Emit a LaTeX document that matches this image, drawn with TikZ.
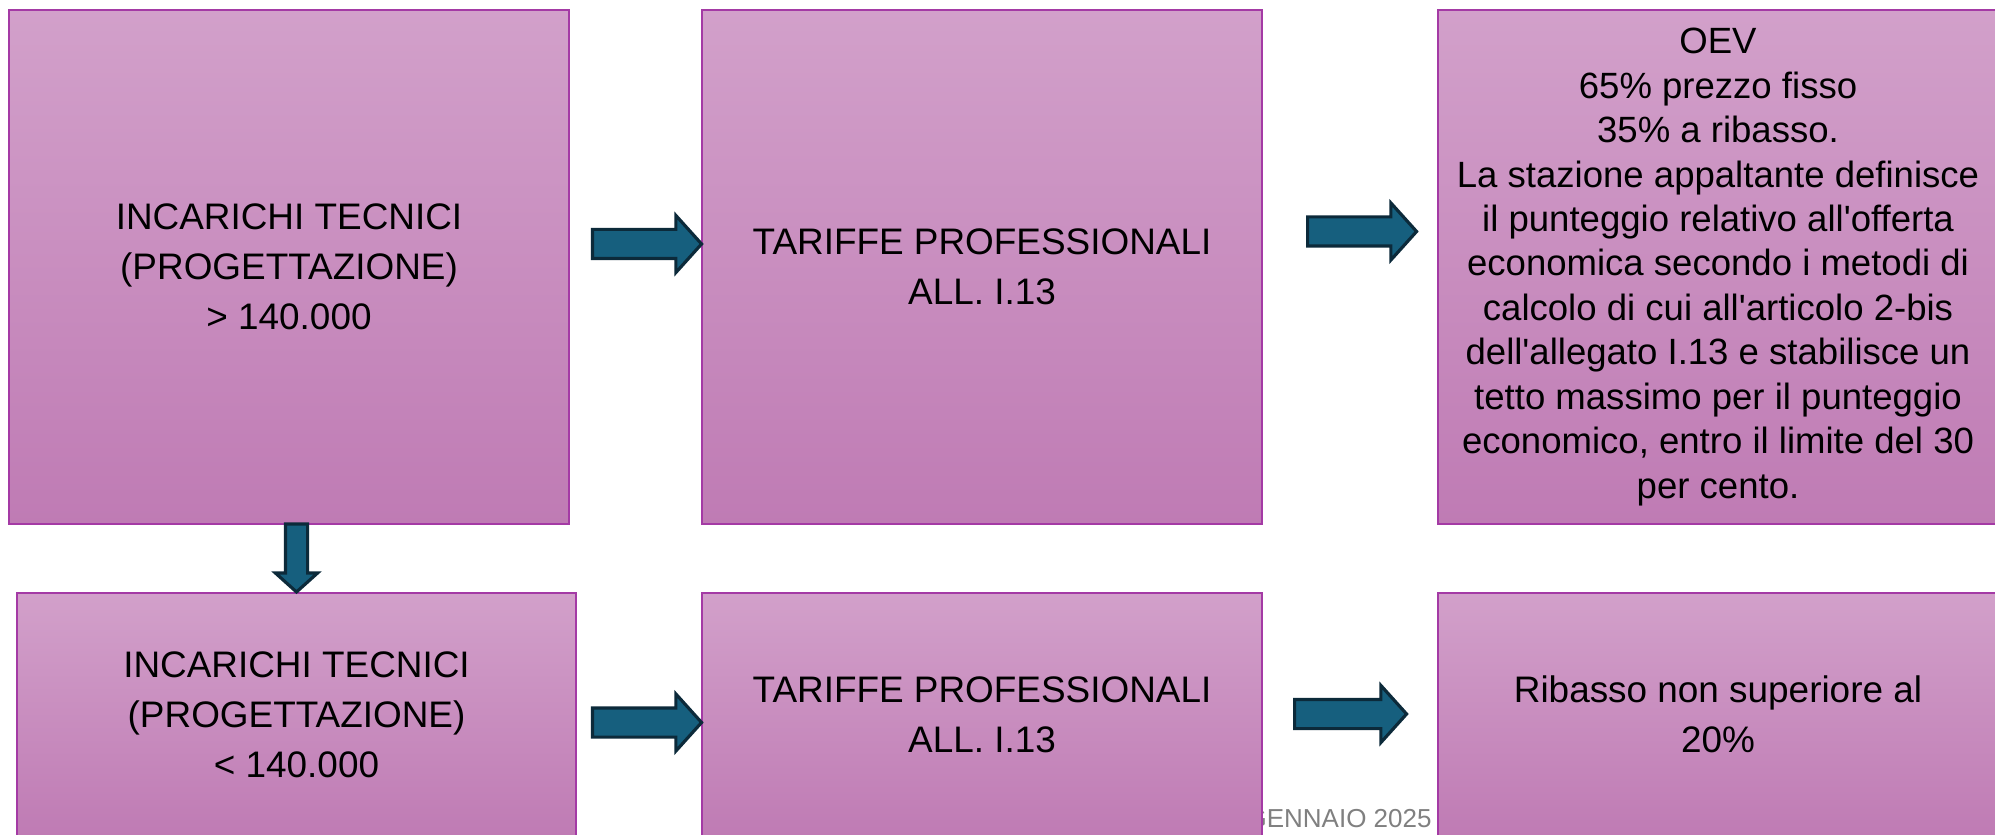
\documentclass[tikz,border=0pt]{standalone}
\usepackage{fontspec}
\setmainfont{Liberation Sans}
\usetikzlibrary{shapes.arrows}

\definecolor{boxtop}{RGB}{210,160,202}
\definecolor{boxbottom}{RGB}{191,123,180}
\definecolor{boxline}{RGB}{164,58,165}
\definecolor{arrowfill}{RGB}{22,95,126}
\definecolor{arrowline}{RGB}{12,42,58}
\definecolor{footgray}{RGB}{128,128,128}

\begin{document}
\begin{tikzpicture}[
        box/.style={draw=boxline, line width=0.6pt, top color=boxtop, bottom color=boxbottom,
            minimum width=5.6cm, align=center, inner sep=0pt,
            font=\fontsize{10.5pt}{14.2pt}\selectfont},
        bigarrow/.style={single arrow, draw=arrowline, line width=0.9pt, fill=arrowfill,
            inner sep=0.13cm, single arrow head extend=0.14cm,
            single arrow tip angle=96, minimum height=1.09cm}
    ]
        \useasboundingbox (0, 0) rectangle (19.95, 8.34);
        \clip (0, 0) rectangle (19.95, 8.34);

        \node[anchor=base east, text=footgray, font=\fontsize{7.4pt}{9pt}\selectfont] (foot) at (14.44, 0.07) {GENNAIO 2025};

        % prima riga
        \node[box, minimum height=5.14cm] (sopra) at (2.89, 5.67) {INCARICHI TECNICI\\(PROGETTAZIONE)\\> 140.000};
        \node[box, minimum height=5.14cm] (tariffesopra) at (9.82, 5.67) {TARIFFE PROFESSIONALI\\ALL. I.13};
        \node[box, minimum height=5.14cm, font=\fontsize{10.4pt}{12.65pt}\selectfont] (oev) at (17.18, 5.67) {OEV\\65\% prezzo fisso\\35\% a ribasso.\\La stazione appaltante definisce\\il punteggio relativo all\textquotesingle offerta\\economica secondo i metodi di\\calcolo di cui all\textquotesingle articolo 2-bis\\dell\textquotesingle allegato I.13 e stabilisce un\\tetto massimo per il punteggio\\economico, entro il limite del 30\\per cento.};

        % seconda riga
        \node[box, minimum width=5.59cm, minimum height=2.43cm] (sotto) at (2.965, 1.195) {INCARICHI TECNICI\\(PROGETTAZIONE)\\< 140.000};
        \node[box, minimum height=2.43cm] (tariffesotto) at (9.82, 1.195) {TARIFFE PROFESSIONALI\\ALL. I.13};
        \node[box, minimum height=2.43cm] (ribasso) at (17.18, 1.195) {Ribasso non superiore al\\20\%};

        % frecce
        \node[bigarrow] (a1) at (6.405, 5.90) {};
        \node[bigarrow] (a2) at (13.555, 6.025) {};
        \node[bigarrow, minimum height=0.68cm, inner sep=0.095cm, single arrow head extend=0.10cm, shape border rotate=270] (a3) at (2.965, 2.81) {};
        \node[bigarrow] (a4) at (6.405, 1.115) {};
        \node[bigarrow, minimum height=1.12cm] (a5) at (13.44, 1.20) {};

    \end{tikzpicture}
\end{document}
